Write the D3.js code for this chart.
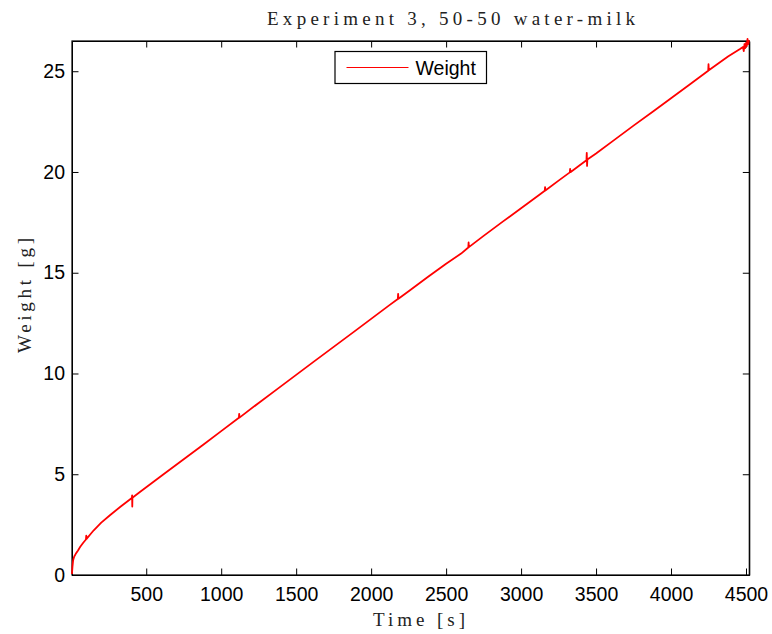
<html lang="en">

<head>
    <meta charset="UTF-8">
    <title>Experiment 3</title>
    <style>
        body {
            margin: 0;
            background: white;
        }

        .tick text {
            font-family: "Liberation Sans", Arial, sans-serif;
            font-size: 19.5px;
            fill: #000;
        }

        .label {
            font-family: "Liberation Serif", "DejaVu Serif", serif;
            font-size: 19px;
            fill: #222;
        }
    </style>
</head>

<body>
    <script src="https://d3js.org/d3.v7.min.js"></script>

    <div id="my_dataviz"></div>

    <script>

        // Data: time [s] and weight [g], spikes included
        var time = [5, 6, 8, 12, 15, 20, 30, 45, 60, 80, 98, 100, 102, 125, 150, 200, 260, 330,
            404, 406, 407, 408, 410, 460, 500, 620, 750, 880, 1000, 1118, 1120, 1122, 1250, 1380,
            1500, 1620, 1750, 1880, 2000, 2120, 2178, 2180, 2182, 2250, 2380, 2500, 2600, 2648, 2650,
            2652, 2750, 2880, 3000, 3120, 3158, 3160, 3162, 3250, 3325, 3327, 3329, 3380, 3436, 3438,
            3440, 3442, 3500, 3620, 3750, 3880, 4000, 4120, 4248, 4250, 4252, 4380, 4460, 4480, 4485,
            4490, 4495, 4500, 4505, 4510, 4515, 4520]
        var weight = [0.05, 0.2, 0.4, 0.7, 0.8, 0.92, 1.05, 1.22, 1.4, 1.6, 1.76, 1.95, 1.79, 2.0,
            2.22, 2.6, 2.98, 3.4, 3.82, 3.95, 3.4, 3.84, 3.85, 4.13, 4.35, 5.02, 5.74, 6.46, 7.14,
            7.8, 8.0, 7.81, 8.54, 9.26, 9.93, 10.6, 11.32, 12.04, 12.71, 13.38, 13.7, 13.95, 13.71,
            14.08, 14.8, 15.45, 15.95, 16.25, 16.5, 16.27, 16.83, 17.55, 18.2, 18.86, 19.07, 19.25,
            19.08, 19.57, 19.98, 20.15, 19.99, 20.27, 20.58, 20.95, 20.3, 20.62, 20.92, 21.58, 22.3,
            23.0, 23.66, 24.32, 25.02, 25.35, 25.05, 25.73, 26.1, 26.2, 26.0, 26.35, 26.15, 26.4,
            26.25, 26.6, 26.35, 26.55]

        var xTicks = [500, 1000, 1500, 2000, 2500, 3000, 3500, 4000, 4500]
        var yTicks = [0, 5, 10, 15, 20, 25]

        var titleText = "Experiment 3, 50-50 water-milk"
        var xLabelText = "Time [s]"
        var yLabelText = "Weight [g]"
        var seriesName = "Weight"

        // Size ?
        var width = 772
        var height = 634
        var margin = { top: 41, right: 22.7, bottom: 59, left: 72 }

        // The svg
        var svg = d3.select("#my_dataviz")
            .append("svg")
            .attr("width", width)
            .attr("height", height)

        var x = d3.scaleLinear()
            .domain([5, 4522])
            .range([margin.left, width - margin.right])

        var y = d3.scaleLinear()
            .domain([0, 26.5])
            .range([height - margin.bottom, margin.top])

        var tickLen = 6.5
        var fmt = d3.format("d")

        // Axes, ticks pointing inwards like matlab
        svg.append("g")
            .attr("transform", "translate(0," + (height - margin.bottom) + ")")
            .call(d3.axisBottom(x).tickValues(xTicks).tickFormat(fmt).tickSize(-tickLen).tickPadding(12).tickSizeOuter(0))

        svg.append("g")
            .attr("transform", "translate(0," + margin.top + ")")
            .call(d3.axisTop(x).tickValues(xTicks).tickSize(-tickLen).tickFormat("").tickSizeOuter(0))

        svg.append("g")
            .attr("transform", "translate(" + margin.left + ",0)")
            .call(d3.axisLeft(y).tickValues(yTicks).tickFormat(fmt).tickSize(-tickLen).tickPadding(7).tickSizeOuter(0))

        svg.append("g")
            .attr("transform", "translate(" + (width - margin.right) + ",0)")
            .call(d3.axisRight(y).tickValues(yTicks).tickSize(-tickLen).tickFormat("").tickSizeOuter(0))

        svg.selectAll(".domain").attr("stroke", "#000")
        svg.selectAll(".tick line").attr("stroke", "#000")

        // Box
        svg.append("rect")
            .attr("x", margin.left)
            .attr("y", margin.top)
            .attr("width", width - margin.left - margin.right)
            .attr("height", height - margin.top - margin.bottom)
            .attr("fill", "none")
            .attr("stroke", "#000")
            .attr("stroke-width", 1.2)

        // The line
        var points = time.map(function (t, i) { return [t, weight[i]] })

        svg.append("path")
            .datum(points)
            .attr("fill", "none")
            .attr("stroke", "#ff0000")
            .attr("stroke-width", 1.8)
            .attr("stroke-linejoin", "round")
            .attr("d", d3.line()
                .x(function (d) { return x(d[0]) })
                .y(function (d) { return y(d[1]) })
            )

        // Title and labels
        svg.append("text")
            .attr("class", "label")
            .attr("x", 267)
            .attr("y", 25)
            .attr("textLength", 368)
            .attr("lengthAdjust", "spacing")
            .text(titleText)

        svg.append("text")
            .attr("class", "label")
            .attr("x", 373)
            .attr("y", 626)
            .attr("textLength", 92)
            .attr("lengthAdjust", "spacing")
            .text(xLabelText)

        svg.append("text")
            .attr("class", "label")
            .attr("transform", "translate(31,353) rotate(-90)")
            .attr("textLength", 115)
            .attr("lengthAdjust", "spacing")
            .text(yLabelText)

        // LEGEND //
        ////////////
        var legend = svg.append("g")

        legend.append("rect")
            .attr("x", 335)
            .attr("y", 51.5)
            .attr("width", 151.5)
            .attr("height", 32)
            .attr("fill", "white")
            .attr("stroke", "#000")
            .attr("stroke-width", 1.2)

        legend.append("line")
            .attr("x1", 346.5)
            .attr("x2", 408.5)
            .attr("y1", 67.5)
            .attr("y2", 67.5)
            .attr("stroke", "#ff0000")
            .attr("stroke-width", 1)

        legend.append("text")
            .attr("x", 415.5)
            .attr("y", 75)
            .style("font-family", "Liberation Sans, Arial, sans-serif")
            .style("font-size", "19.5px")
            .text(seriesName)

    </script>

</body>

</html>
